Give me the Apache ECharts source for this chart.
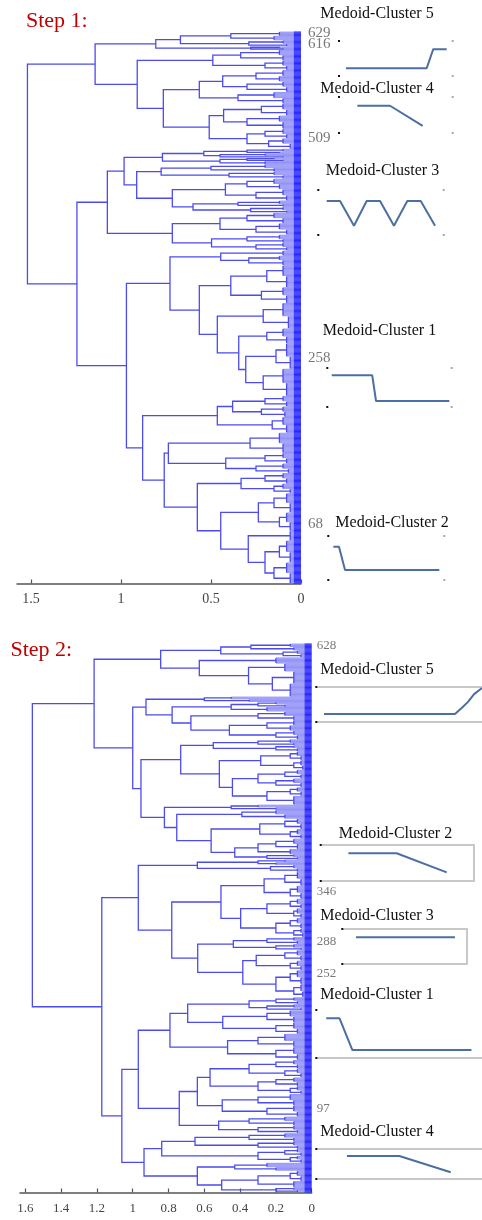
<!DOCTYPE html>
<html><head><meta charset="utf-8">
<script src="https://cdn.jsdelivr.net/npm/echarts@6/dist/echarts.min.js"></script>
<style>html,body{margin:0;padding:0;background:#fff}#c{width:482px;height:1220px}</style>
</head><body><div id="c"></div>
<script>
// ---------------- DATA ----------------
const step1TickValues = [0, 0.5, 1, 1.5];
const step2TickValues = [0, 0.2, 0.4, 0.6, 0.8, 1, 1.2, 1.4, 1.6];
const step1LeafIds = [629, 616, 509, 258, 68];
const step2LeafIds = [628, 346, 288, 252, 97];

// dendrogram nodes: [height, childA, childB]; terminal groups: [height, leafCount]
const step1A1 = [0.807,[0.67,[0.39,[0.12,5],[0.15,5]],[0.29,[0.1,4],[0.08,3]]],[0.28,[0.12,2],[0.1,2]]];
const step1A2a = [0.49,[0.335,[0.12,6],[0.1,6]],[0.2,[0.1,6],[0.08,5]]];
const step1A2b1 = [0.565,[0.435,[0.25,[0.1,7],[0.12,6]],[0.3,[0.1,6],[0.08,6]]],[0.35,[0.15,7],[0.1,6]]];
const step1A2b2 = [0.51,[0.43,[0.22,[0.1,7],[0.08,7]],[0.3,[0.12,7],[0.1,8]]],[0.3,[0.2,[0.1,6],[0.08,5]],[0.18,[0.1,6],[0.06,6]]]];
const step1B1a = [0.983,[0.77,[0.54,[0.3,[0.1,3],[0.12,2]],[0.45,[0.2,3],[0.1,2]]],[0.45,[0.3,[0.15,2],[0.1,2]],[0.2,4]]],[0.913,[0.777,[0.5,[0.2,4],[0.15,4]],[0.4,[0.15,4],[0.1,4]]],[0.715,[0.42,[0.3,[0.15,6],[0.12,6]],[0.25,[0.1,7],[0.08,6]]],[0.6,[0.35,[0.12,4],[0.1,3]],[0.28,[0.1,4],[0.08,3]]]]]];
const step1B1b = [0.715,[0.45,[0.3,[0.15,6],[0.1,6]],[0.25,[0.12,7],[0.08,6]]],[0.497,[0.3,[0.12,5],[0.1,4]],[0.25,[0.1,5],[0.08,4]]]];
const step1B2a = [0.728,[0.446,[0.1,6],[0.29,[0.12,5],[0.1,6]]],[0.565,[0.39,[0.19,[0.1,12],[0.08,13]],[0.22,[0.1,9],[0.08,9]]],[0.465,[0.21,[0.1,15],[0.07,14]],[0.346,[0.19,[0.1,9],[0.08,8]],[0.307,[0.139,[0.08,15],[0.06,14]],[0.21,[0.1,16],[0.08,15]]]]]]];
const step1B2b = [0.88,[0.465,[0.38,[0.2,[0.1,6],[0.08,6]],[0.22,[0.1,6],[0.09,6]]],[0.16,[0.1,9],[0.08,9]]],[0.76,[0.737,[0.283,[0.12,12],[0.1,11]],[0.418,[0.2,[0.1,6],[0.08,6]],[0.25,[0.1,6],[0.07,5]]]],[0.576,[0.333,[0.2,[0.1,6],[0.08,6]],[0.15,[0.1,6],[0.06,5]]],[0.446,[0.237,[0.15,[0.08,11],[0.06,11]],[0.12,[0.08,11],[0.06,10]]],[0.293,[0.06,11],[0.2,[0.12,[0.08,13],[0.06,12]],[0.15,[0.08,12],[0.06,12]]]]]]]];
const step1Tree = [1.52,[1.144,step1A1,[0.91,step1A2a,[0.765,step1A2b1,step1A2b2]]],[1.245,[1.076,step1B1a,step1B1b],[0.97,step1B2a,step1B2b]]];

const step2A1 = [0.844,[0.508,[0.34,[0.12,4],[0.1,4]],[0.16,[0.08,4],[0.06,4]]],[0.628,[0.2,7],[0.353,[0.15,9],[0.22,[0.1,14],[0.12,15]]]]];
const step2A2a = [0.926,[0.6,[0.45,3],[0.35,3]],[0.78,[0.45,[0.3,[0.2,3],[0.15,3]],[0.25,5]],[0.675,[0.3,[0.15,5],[0.1,5]],[0.46,[0.25,[0.1,6],[0.12,6]],[0.2,[0.1,5],[0.08,5]]]]]];
const step2A2b1 = [0.732,[0.55,[0.3,[0.12,4],[0.1,3]],[0.2,[0.1,3],[0.08,4]]],[0.516,[0.285,[0.12,[0.08,5],[0.06,5]],[0.1,[0.06,6],[0.05,5]]],[0.443,[0.3,[0.15,[0.08,5],[0.06,5]],[0.2,[0.1,5],[0.06,5]]],[0.25,[0.12,[0.08,5],[0.06,5]],[0.1,10]]]]];
const step2A2b2 = [0.823,[0.45,[0.3,3],[0.2,3]],[0.754,[0.39,[0.2,5],[0.15,5]],[0.562,[0.29,[0.15,[0.08,6],[0.06,6]],[0.12,[0.08,6],[0.06,5]]],[0.43,[0.3,[0.2,[0.1,6],[0.08,6]],[0.12,6]],[0.25,[0.1,3],[0.08,3]]]]]];
const step2B1 = [0.969,[0.639,[0.3,[0.15,3],[0.2,3]],[0.23,[0.1,4],[0.08,4]]],[0.782,[0.507,[0.266,[0.15,[0.08,8],[0.06,8]],[0.12,[0.08,8],[0.06,7]]],[0.397,[0.25,[0.12,[0.08,6],[0.06,5]],[0.1,[0.08,6],[0.06,5]]],[0.2,[0.12,[0.08,6],[0.06,6]],[0.1,[0.06,5],[0.05,5]]]]],[0.637,[0.438,[0.25,[0.1,4],[0.08,4]],[0.2,[0.1,4],[0.06,3]]],[0.385,[0.31,[0.15,[0.08,6],[0.06,6]],[0.12,[0.08,6],[0.06,5]]],[0.2,[0.12,[0.08,8],[0.06,8]],[0.1,[0.06,8],[0.05,7]]]]]]];
const step2B2a = [0.969,[0.792,[0.693,[0.35,[0.2,[0.1,4],[0.08,4]],[0.25,[0.1,4],[0.06,3]]],[0.497,[0.25,[0.12,7],[0.1,7]],[0.2,[0.1,7],[0.08,6]]]],[0.47,[0.3,[0.15,8],[0.1,7]],[0.2,[0.1,8],[0.08,7]]]],[0.74,[0.639,[0.568,[0.35,[0.2,[0.1,5],[0.08,5]],[0.15,[0.08,5],[0.06,5]]],[0.3,[0.2,[0.1,5],[0.08,5]],[0.12,[0.08,5],[0.06,4]]]],[0.5,[0.3,[0.12,7],[0.1,6]],[0.25,[0.1,7],[0.08,6]]]],[0.52,[0.35,[0.15,5],[0.1,5]],[0.3,[0.1,5],[0.08,4]]]]];
const step2B2b = [0.937,[0.838,[0.652,[0.35,[0.15,5],[0.1,4]],[0.3,[0.1,5],[0.08,4]]],[0.3,[0.15,[0.08,4],[0.06,4]],[0.12,[0.08,4],[0.06,4]]]],[0.639,[0.43,[0.25,5],[0.2,4]],[0.503,[0.3,[0.12,[0.08,6],[0.06,6]],[0.1,7]],[0.2,[0.1,3],[0.08,3]]]]];
const step2Tree = [1.561,[1.216,step2A1,[1.0,step2A2a,[0.954,step2A2b1,step2A2b2]]],[1.173,step2B1,[1.061,step2B2a,step2B2b]]];

// medoid profiles: [time (0-100), normalised value]
const s1Cluster5 = [[5.4,0.22],[77.6,0.22],[83.5,0.76],[95.5,0.76]];
const s1Cluster4 = [[15.5,0.74],[44.8,0.74],[74,0.19]];
const s1Cluster3 = [[6,0.756],[16.8,0.756],[28.1,0.207],[38.4,0.756],[49.2,0.756],[60.5,0.207],[71.3,0.756],[82.2,0.756],[93.8,0.207]];
const s1Cluster1 = [[2.8,0.805],[35.9,0.805],[39,0.146],[98.9,0.146]];
const s1Cluster2 = [[3.5,0.757],[8.5,0.757],[13.8,0.227],[96.5,0.227]];
const s2Cluster5 = [[4.1,0.22],[83.6,0.22],[88,0.4],[91.5,0.56],[95.2,0.78],[100,0.95]];
const s2Cluster2 = [[17.5,0.768],[49.2,0.768],[82.1,0.235]];
const s2Cluster3 = [[10.3,0.763],[90.5,0.763]];
const s2Cluster1 = [[5.4,0.8125],[13.5,0.8125],[21.3,0.152],[93.6,0.152]];
const s2Cluster4 = [[18,0.767],[49.8,0.767],[81,0.223]];

// ---------------- BUILD ----------------
const SERIF = '"Liberation Serif","DejaVu Serif",serif';
const STUB = 0.04; // dark blue end band of every leaf line
function countLeaves(n){ return typeof n[1] === 'number' ? n[1] : countLeaves(n[1]) + countLeaves(n[2]); }
function layout(tree){
  const N = countLeaves(tree); let cur = N - 1; const links = [], leavesNear = [], leavesFar = [];
  function walk(n){
    const h = n[0];
    if (typeof n[1] === 'number'){
      const top = cur, bot = cur - n[1] + 1;
      for (let i = top; i >= bot; i--){
        leavesNear.push({coords: [[0, i], [Math.min(h, STUB), i]]});
        if (h > STUB) leavesFar.push({coords: [[STUB, i], [h, i]]});
      }
      cur = bot - 1;
      if (n[1] > 1) links.push({coords: [[h, top], [h, bot]]});
      return [h, (top + bot) / 2];
    }
    const a = walk(n[1]), b = walk(n[2]);
    links.push({coords: [[a[0], a[1]], [h, a[1]], [h, b[1]], [b[0], b[1]]]});
    return [h, (a[1] + b[1]) / 2];
  }
  walk(tree);
  return {N, links, leavesNear, leavesFar};
}
const d1 = layout(step1Tree), d2 = layout(step2Tree);

const grids = [
  {left: 17, right: 181, top: 31.5, bottom: 1220 - 583.5},
  {left: 20, right: 170.3, top: 643.5, bottom: 1220 - 1192.5}
];
const xAxes = [], yAxes = [], series = [];
function dendroAxes(gi, max, ticks, fs, margin, N){
  xAxes.push({gridIndex: gi, type: 'value', inverse: true, min: 0, max: max,
    axisLine: {show: true, onZero: false, lineStyle: {color: '#555', width: 1.5}},
    axisTick: {show: true, inside: true, length: 4, customValues: ticks, lineStyle: {color: '#555', width: 1.2}},
    axisLabel: {customValues: ticks, fontFamily: SERIF, fontSize: fs, color: '#444', margin: margin, formatter: v => String(v)},
    splitLine: {show: false}});
  yAxes.push({gridIndex: gi, type: 'value', min: -0.5, max: N - 0.5, show: false});
}
dendroAxes(0, 1.578, step1TickValues, 14, 9, d1.N);
dendroAxes(1, 1.63, step2TickValues, 13, 10, d2.N);

function dendroSeries(idx, d, ids, fs){
  series.push({type: 'lines', coordinateSystem: 'cartesian2d', xAxisIndex: idx, yAxisIndex: idx, polyline: true, silent: true,
    data: d.leavesFar, lineStyle: {color: '#6d6df5', width: 0.7, opacity: 1}, z: 2});
  series.push({type: 'lines', coordinateSystem: 'cartesian2d', xAxisIndex: idx, yAxisIndex: idx, polyline: true, silent: true,
    data: d.leavesNear, lineStyle: {color: '#1212ff', width: 0.9, opacity: 1}, z: 2});
  series.push({type: 'lines', coordinateSystem: 'cartesian2d', xAxisIndex: idx, yAxisIndex: idx, polyline: true, silent: true,
    data: d.links, lineStyle: {color: '#4b4bf0', width: 1.3, opacity: 1}, z: 3});
  series.push({type: 'scatter', xAxisIndex: idx, yAxisIndex: idx, symbolSize: 0, silent: true, clip: false,
    data: ids.map(id => [0, id - 1, id]),
    label: {show: true, position: 'right', distance: idx === 0 ? 7 : 5, formatter: p => String(p.value[2]),
      fontFamily: SERIF, fontSize: fs, color: '#555'}});
}
dendroSeries(0, d1, step1LeafIds, 15);
dendroSeries(1, d2, step2LeafIds, 13);

const GRAY = '#c8c8c8';
const minis = [
  {data: s1Cluster5, left: 340, top: 40.7, width: 111.7, height: 35.3, box: {}, rdots: true},
  {data: s1Cluster4, left: 340, top: 96.3, width: 111.7, height: 36.4, box: {}, rdots: true},
  {data: s1Cluster3, left: 319.3, top: 190, width: 123.4, height: 45, box: {}, rdots: true},
  {data: s1Cluster1, left: 328.3, top: 367.7, width: 122.4, height: 39, box: {}, rdots: true},
  {data: s1Cluster2, left: 329.3, top: 536, width: 114, height: 44, box: {}, rdots: true},
  {data: s2Cluster5, left: 317.3, top: 686.3, width: 172.7, height: 35.4, box: {top: 1, bottom: 1}},
  {data: s2Cluster2, left: 321.7, top: 845, width: 152.3, height: 35.7, box: {top: 1, bottom: 1, right: 1}},
  {data: s2Cluster3, left: 343.3, top: 929, width: 123.4, height: 35, box: {top: 1, bottom: 1, right: 1}},
  {data: s2Cluster1, left: 317.3, top: 1009.3, width: 172.7, height: 48, box: {bottom: 1}},
  {data: s2Cluster4, left: 317.3, top: 1149, width: 172.7, height: 30, box: {top: 1, bottom: 1}}
];
minis.forEach((m, i) => {
  const gi = grids.length;
  grids.push({left: m.left, top: m.top, width: m.width, height: m.height});
  const xi = xAxes.length;
  xAxes.push({gridIndex: gi, type: 'value', min: 0, max: 100, position: 'bottom',
    axisLine: {show: !!m.box.bottom, onZero: false, lineStyle: {color: GRAY, width: 2}},
    axisTick: {show: false}, axisLabel: {show: false}, splitLine: {show: false}});
  if (m.box.top) xAxes.push({gridIndex: gi, type: 'value', min: 0, max: 100, position: 'top',
    axisLine: {show: true, onZero: false, lineStyle: {color: GRAY, width: 2}},
    axisTick: {show: false}, axisLabel: {show: false}, splitLine: {show: false}});
  const yi = yAxes.length;
  yAxes.push({gridIndex: gi, type: 'value', min: 0, max: 1, interval: 1, position: 'left',
    axisLine: {show: false, onZero: false},
    axisTick: {show: true, length: 2, lineStyle: {color: '#111', width: 2}},
    axisLabel: {show: false}, splitLine: {show: false}});
  if (m.box.right || m.rdots) yAxes.push({gridIndex: gi, type: 'value', min: 0, max: 1, interval: 1, position: 'right',
    axisLine: {show: !!m.box.right, onZero: false, lineStyle: {color: GRAY, width: 2}},
    axisTick: {show: !!m.rdots, length: 2, lineStyle: {color: '#aaa', width: 2}},
    axisLabel: {show: false}, splitLine: {show: false}});
  series.push({type: 'line', xAxisIndex: xi, yAxisIndex: yi, data: m.data, showSymbol: false, silent: true,
    lineStyle: {color: '#4c6fa3', width: 2}, z: 5});
});

function txt(text, x, y, size, color, align){
  return {type: 'text', x: x, y: y, silent: true,
    style: {text: text, font: size + 'px ' + SERIF, fill: color,
      align: align || 'center', verticalAlign: 'middle', textAlign: align || 'center', textVerticalAlign: 'middle'}};
}
const graphics = [
  txt('Step 1:', 26, 21, 22, '#c00000', 'left'),
  txt('Step 2:', 10.5, 650, 22, '#c00000', 'left'),
  txt('Medoid-Cluster 5', 377, 13.5, 16, '#111'),
  txt('Medoid-Cluster 4', 377, 88.5, 16, '#111'),
  txt('Medoid-Cluster 3', 382.5, 171, 16, '#111'),
  txt('Medoid-Cluster 1', 379.5, 331, 16, '#111'),
  txt('Medoid-Cluster 2', 392, 522.5, 16, '#111'),
  txt('Medoid-Cluster 5', 377, 669.5, 16, '#111'),
  txt('Medoid-Cluster 2', 395.5, 833.5, 16, '#111'),
  txt('Medoid-Cluster 3', 377, 916, 16, '#111'),
  txt('Medoid-Cluster 1', 377, 995, 16, '#111'),
  txt('Medoid-Cluster 4', 377, 1132, 16, '#111')
];

const chart = echarts.init(document.getElementById('c'), null, {renderer: 'canvas'});
chart.setOption({
  animation: false,
  backgroundColor: '#fff',
  grid: grids, xAxis: xAxes, yAxis: yAxes, series: series,
  graphic: graphics
});
</script></body></html>
